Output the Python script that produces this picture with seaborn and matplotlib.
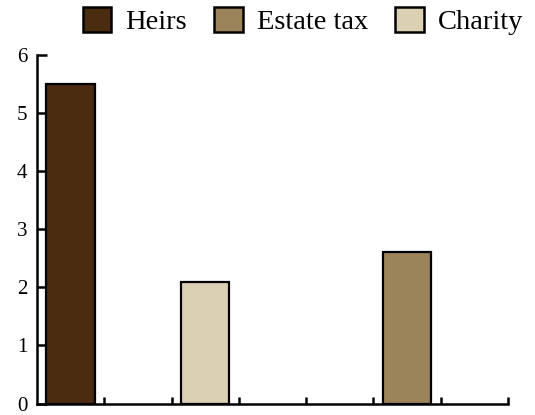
import matplotlib
matplotlib.use("Agg")
import matplotlib.pyplot as plt
from matplotlib.patches import Patch
import seaborn as sns
import pandas as pd

# Data
slots = ["s0", "s1", "s2", "s3", "s4", "s5", "s6"]
bar_slots = ["s0", "s2", "s5"]
bar_labels = ["Heirs", "Charity", "Estate tax"]
bar_values = [5.5, 2.1, 2.6]
legend_order = ["Heirs", "Estate tax", "Charity"]
colors = {"Heirs": "#4a2c11", "Estate tax": "#9b845a", "Charity": "#dbd0b4"}
y_ticks = [0, 1, 2, 3, 4, 5, 6]

df = pd.DataFrame({"slot": bar_slots, "who": bar_labels, "value": bar_values})

sns.set_theme(style="white")
plt.rcParams["font.family"] = ["Liberation Serif", "DejaVu Serif"]
plt.rcParams["text.color"] = "black"

fig = plt.figure(figsize=(5.35, 4.15), dpi=100)
ax = fig.add_axes([37 / 535, 11.5 / 415, (508 - 37) / 535, (403.5 - 55) / 415])

sns.barplot(data=df, x="slot", y="value", hue="who", order=slots,
            hue_order=legend_order, palette=colors, dodge=False, width=0.72,
            edgecolor="black", linewidth=1.6, legend=False, ax=ax, saturation=1)

ax.set_xlim(-0.5, 6.5)
ax.set_ylim(0, 6)
ax.set_xticks([i + 0.5 for i in range(len(slots))])
ax.set_xticklabels([])
ax.set_yticks(y_ticks)
ax.set_yticklabels([str(t) for t in y_ticks], fontsize=15)
ax.set_xlabel("")
ax.set_ylabel("")
for s in ["top", "right"]:
    ax.spines[s].set_visible(False)
for s in ["left", "bottom"]:
    ax.spines[s].set_linewidth(1.8)
    ax.spines[s].set_color("black")
ax.tick_params(axis="y", left=True, direction="in", length=7, width=1.8,
               color="black", labelcolor="black", pad=7)
ax.tick_params(axis="x", bottom=True, direction="in", length=5, width=1.8,
               color="black")

handles = [Patch(facecolor=colors[k], edgecolor="black", linewidth=1.8) for k in legend_order]
fig.legend(handles, legend_order, loc="upper right", bbox_to_anchor=(1.01, 1.025),
           ncol=3, frameon=False, fontsize=20.5, handlelength=1.0, handleheight=1.0,
           handletextpad=0.5, columnspacing=0.95, borderaxespad=0.2)

fig.savefig("out.png", dpi=100)
